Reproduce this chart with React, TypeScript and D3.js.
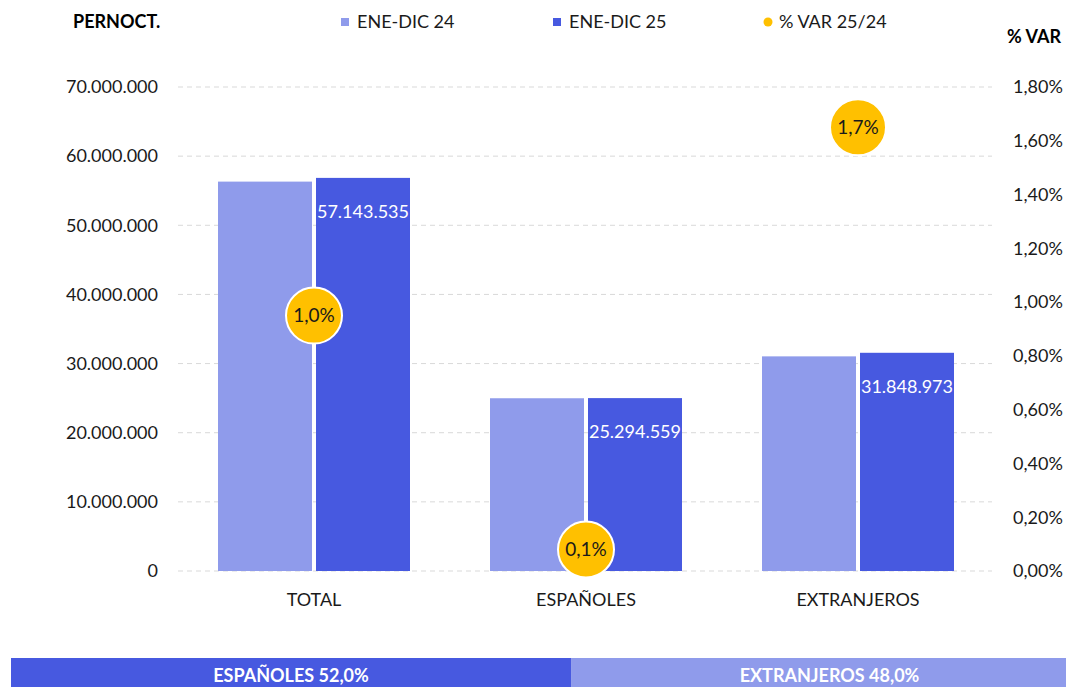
import React from "react";
import * as d3 from "d3";

const categories = ["TOTAL", "ESPAÑOLES", "EXTRANJEROS"];
const series24 = [56606000, 25274000, 31332000];
const series25 = [57143535, 25294559, 31848973];
const pctVar = [0.95, 0.08, 1.65];
const leftTicks = [0, 10000000, 20000000, 30000000, 40000000, 50000000, 60000000, 70000000];
const rightTicks = [0, 0.2, 0.4, 0.6, 0.8, 1.0, 1.2, 1.4, 1.6, 1.8];
const legendLabels = ["ENE-DIC 24", "ENE-DIC 25", "% VAR 25/24"];
const shareLabels = ["ESPAÑOLES", "EXTRANJEROS"];
const shareValues = [52.0, 48.0];

const C_LIGHT = "#8F9BEB";
const C_DARK = "#4759E0";
const C_GOLD = "#FFC000";
const FONT = "Lato, 'Noto Sans', sans-serif";

const fmtInt = (v: number) => d3.format(",.0f")(v).replace(/,/g, ".");
const fmtPct2 = (v: number) => v.toFixed(2).replace(".", ",") + "%";
const fmtPct1 = (v: number) => (Math.round(v * 10 + 1e-9) / 10).toFixed(1).replace(".", ",") + "%";

export default function App() {
  const W = 1066, H = 687;
  const x0 = 178, x1 = 994;
  const yTop = 87, yBot = 571;
  const x = d3.scaleBand<string>().domain(categories).range([x0, x1]).padding(0);
  const yL = d3.scaleLinear().domain([0, 70000000]).range([yBot, yTop]);
  const yR = d3.scaleLinear().domain([0, 1.8]).range([yBot, yTop]);
  const barW = 94, gap = 4;
  const share = d3.scaleLinear().domain([0, 100]).range([11, 1088]);
  let acc = 0;
  const shareSegs = shareValues.map((v, i) => {
    const s = { x0: share(acc), x1: share(acc + v), label: shareLabels[i], v, i };
    acc += v;
    return s;
  });

  return (
    <svg width={W} height={H} style={{ position: "fixed", left: 0, top: 0, fontFamily: FONT }}>
      <rect width={W} height={H} fill="#fff" />
      {leftTicks.map((t) => (
        <line key={t} x1={x0} x2={x1 - 2} y1={yL(t)} y2={yL(t)} stroke="#d9d9d9" strokeWidth={1} strokeDasharray="5,4" />
      ))}
      {leftTicks.map((t) => (
        <text key={t} x={158} y={yL(t)} dy="0.35em" textAnchor="end" fontSize={18} fill="#1a1a1a">
          {fmtInt(t)}
        </text>
      ))}
      {rightTicks.map((t) => (
        <text key={t} x={1013} y={yR(t)} dy="0.35em" textAnchor="start" fontSize={18} fill="#1a1a1a">
          {fmtPct2(t)}
        </text>
      ))}
      {categories.map((c, i) => {
        const cx = (x(c) as number) + x.bandwidth() / 2;
        return (
          <g key={c}>
            <rect x={cx - gap / 2 - barW} y={yL(series24[i]) + 2} width={barW} height={yBot - yL(series24[i]) - 2} fill={C_LIGHT} />
            <rect x={cx + gap / 2} y={yL(series25[i]) + 2} width={barW} height={yBot - yL(series25[i]) - 2} fill={C_DARK} />
            <text x={cx + gap / 2 + barW / 2} y={yL(series25[i]) + 42} textAnchor="middle" fontSize={18} fill="#fff">
              {fmtInt(series25[i])}
            </text>
            <text x={cx} y={600} dy="0.35em" textAnchor="middle" fontSize={18} fill="#1a1a1a">
              {c}
            </text>
          </g>
        );
      })}
      {categories.map((c, i) => {
        const cx = (x(c) as number) + x.bandwidth() / 2;
        const cy = yR(pctVar[i]);
        return (
          <g key={c + "b"}>
            <circle cx={cx} cy={cy} r={28} fill={C_GOLD} stroke="#fff" strokeWidth={2} />
            <text x={cx} y={cy} dy="0.35em" textAnchor="middle" fontSize={19} fill="#1a1a1a">
              {fmtPct1(pctVar[i])}
            </text>
          </g>
        );
      })}
      <text x={73} y={22} dy="0.35em" fontSize={18} fontWeight="bold" fill="#000">PERNOCT.</text>
      <text x={1061} y={37} dy="0.35em" fontSize={18} fontWeight="bold" fill="#000" textAnchor="end">% VAR</text>
      <rect x={341} y={18} width={8} height={8} fill={C_LIGHT} />
      <text x={357} y={22} dy="0.35em" fontSize={18} fill="#1a1a1a">{legendLabels[0]}</text>
      <rect x={553} y={18} width={8} height={8} fill={C_DARK} />
      <text x={569} y={22} dy="0.35em" fontSize={18} fill="#1a1a1a">{legendLabels[1]}</text>
      <circle cx={768} cy={22} r={4.5} fill={C_GOLD} />
      <text x={779} y={22} dy="0.35em" fontSize={18} fill="#1a1a1a">{legendLabels[2]}</text>
      {shareSegs.map((s) => (
        <g key={s.label}>
          <rect x={s.x0} y={658} width={s.x1 - s.x0} height={32} fill={s.i === 0 ? C_DARK : C_LIGHT} />
          <text x={(s.x0 + s.x1) / 2} y={676} dy="0.35em" textAnchor="middle" fontSize={18} fontWeight="bold" fill="#fff">
            {s.label + " " + fmtPct1(s.v)}
          </text>
        </g>
      ))}
    </svg>
  );
}
